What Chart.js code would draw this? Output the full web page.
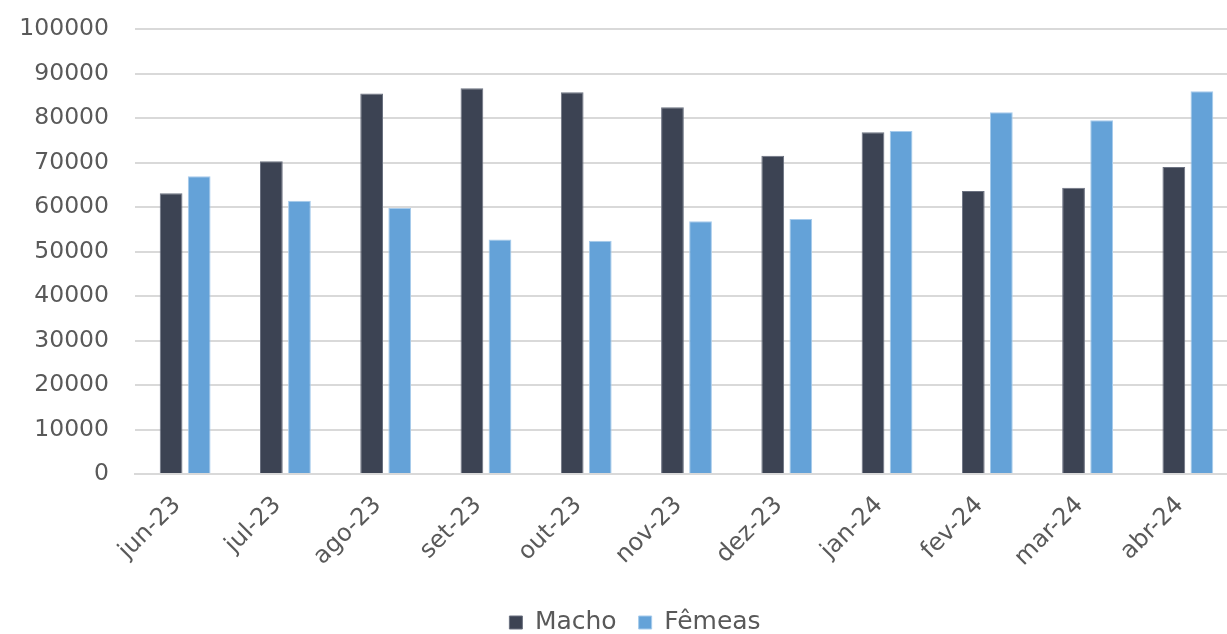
<!DOCTYPE html>
<html>
<head>
<meta charset="utf-8">
<script src="https://cdn.jsdelivr.net/npm/chart.js@4/dist/chart.umd.min.js"></script>
<style>
  html, body { margin: 0; padding: 0; background: #ffffff; overflow: hidden; }
  #wrap { position: relative; width: 1227px; height: 634px; overflow: hidden; }
</style>
</head>
<body>
<div id="wrap"><canvas id="chart" width="1240" height="645"></canvas></div>
<script>
const categories = ['jun-23', 'jul-23', 'ago-23', 'set-23', 'out-23', 'nov-23', 'dez-23', 'jan-24', 'fev-24', 'mar-24', 'abr-24'];
const macho = [63100, 70300, 85500, 86700, 85800, 82400, 71500, 76800, 63600, 64300, 69000];
const femeas = [66900, 61400, 59800, 52700, 52400, 56800, 57300, 77100, 81300, 79500, 86000];
const yTicks = [0, 10000, 20000, 30000, 40000, 50000, 60000, 70000, 80000, 90000, 100000];

const FONT = "'DejaVu Sans', sans-serif";
const TEXT = '#595959';

// nudge the legend a little to the right of the canvas centre
const legendShift = {
  id: 'legendShift',
  afterLayout(chart) {
    if (chart.legend) { chart.legend.left += 16; chart.legend.right += 16; }
  }
};

new Chart(document.getElementById('chart'), {
  type: 'bar',
  data: {
    labels: categories,
    datasets: [
      { label: 'Macho', data: macho, backgroundColor: '#3c4353', borderColor: '#6b7180', borderWidth: 1,
        categoryPercentage: 0.56, barPercentage: 0.81 },
      { label: 'Fêmeas', data: femeas, backgroundColor: '#64a2d8', borderColor: '#a6cbec', borderWidth: 1,
        categoryPercentage: 0.56, barPercentage: 0.81 }
    ]
  },
  plugins: [legendShift],
  options: {
    responsive: false,
    animation: false,
    layout: { padding: { top: 29, right: 2, left: 0, bottom: 0 } },
    plugins: {
      tooltip: { enabled: false },
      legend: {
        position: 'bottom',
        labels: {
          font: { family: FONT, size: 25 },
          color: TEXT,
          boxWidth: 13,
          boxHeight: 13,
          padding: 22,
          useBorderRadius: false
        }
      }
    },
    scales: {
      x: {
        grid: { display: false, drawTicks: false },
        border: { display: true, color: '#d9d9d9', width: 2 },
        ticks: {
          font: { family: FONT, size: 24 },
          color: TEXT,
          minRotation: 45,
          maxRotation: 45,
          padding: 17,
          labelOffset: -8
        },
        afterFit: (s) => { s.height = 114; }
      },
      y: {
        min: 0,
        max: 100000,
        afterBuildTicks: (s) => { s.ticks = yTicks.map(v => ({ value: v })); },
        grid: { color: '#d9d9d9', lineWidth: 2, drawTicks: false },
        border: { display: false },
        ticks: {
          font: { family: FONT, size: 23.5 },
          color: TEXT,
          padding: 26,
          callback: (v) => String(v)
        },
        afterFit: (s) => { s.width = 135; s.paddingTop = 0; s.paddingBottom = 0; }
      }
    }
  }
});
</script>
</body>
</html>
